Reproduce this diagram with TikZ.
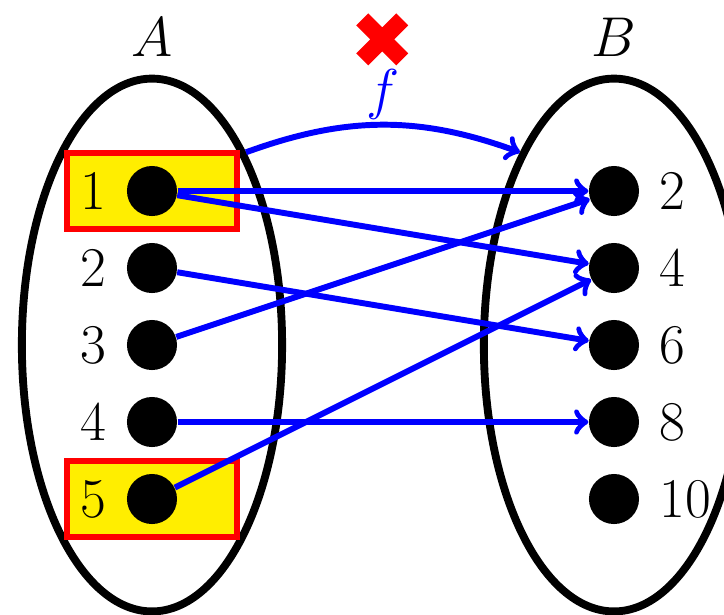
\documentclass[tikz,border=0pt]{standalone}
\usepackage{amsmath}
\usepackage{amssymb}
\usepackage{xcolor}
\usetikzlibrary{shapes.geometric}
\definecolor{giallo}{RGB}{255,238,0}

\tikzset{
  insieme/.style={draw, ellipse, line width=2.9pt, minimum width=3.38cm, minimum height=6.92cm},
  punto/.style={circle, fill=black, minimum size=0.65cm, inner sep=0pt},
  freccia/.style={->, blue, line width=2.2pt},
  evidenza/.style={draw=red, fill=giallo, line width=2.2pt, minimum width=2.2cm, minimum height=0.98cm},
}

\begin{document}
\begin{tikzpicture}[font=\huge]
                \useasboundingbox (-1.974,-3.494) rectangle (7.429,4.481);
                \clip (-1.974,-3.494) rectangle (7.429,4.481);

                % Insiemi
                \node[insieme] (setA) at (0,0) {};
                \node[insieme] (setB) at (6,0) {};
                \node (labA) at (0,4) {$A$};
                \node (labB) at (6,4) {$B$};

                % Elementi evidenziati
                \node[evidenza] (box1) at (0,2) {};
                \node[evidenza] (box5) at (0,-2) {};

                % Elementi di A
                \node[punto, label={[label distance=4pt]left:$1$}] (a1) at (0,2) {};
                \node[punto, label={[label distance=4pt]left:$2$}] (a2) at (0,1) {};
                \node[punto, label={[label distance=4pt]left:$3$}] (a3) at (0,0) {};
                \node[punto, label={[label distance=4pt]left:$4$}] (a4) at (0,-1) {};
                \node[punto, label={[label distance=4pt]left:$5$}] (a5) at (0,-2) {};

                % Elementi di B
                \node[punto, label={[label distance=4pt]right:$2$}] (b2) at (6,2) {};
                \node[punto, label={[label distance=4pt]right:$4$}] (b4) at (6,1) {};
                \node[punto, label={[label distance=4pt]right:$6$}] (b6) at (6,0) {};
                \node[punto, label={[label distance=4pt]right:$8$}] (b8) at (6,-1) {};
                \node[punto, label={[label distance=4pt]right:$10$}] (b10) at (6,-2) {};

                % Frecce
                \draw[freccia] (a1) -- (b2);
                \draw[freccia] (a1) -- (b4);
                \draw[freccia] (a2) -- (b6);
                \draw[freccia] (a3) -- (b2);
                \draw[freccia] (a4) -- (b8);
                \draw[freccia] (a5) -- (b4);

                % Funzione f
                \draw[freccia] (setA.64) to[bend left=20] node[above, inner sep=1pt] (labf) {$f$} (setB.116);

                % Croce
                \coordinate (croce) at (2.99,3.97);
                \draw[red, line width=0.22cm] (croce) ++(-0.26,-0.26) -- ++(0.52,0.52)
                      (croce) ++(-0.26,0.26) -- ++(0.52,-0.52);

\end{tikzpicture}
\end{document}
